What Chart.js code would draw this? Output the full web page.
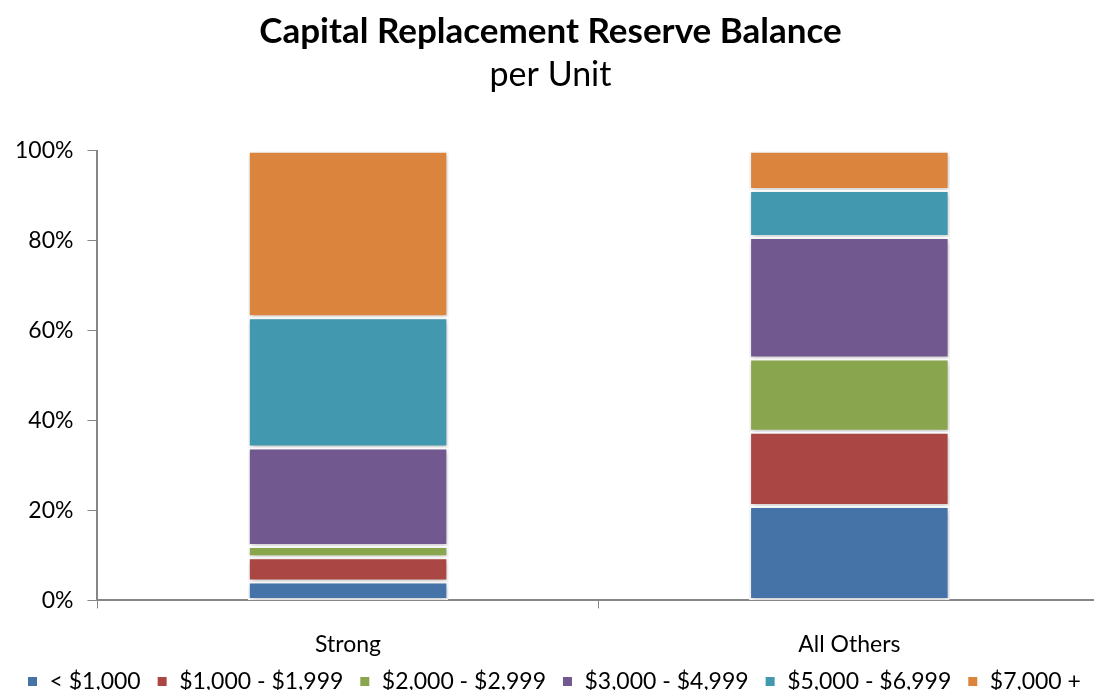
<!DOCTYPE html>
<html><head><meta charset="utf-8">
<script src="https://cdn.jsdelivr.net/npm/chart.js@4"></script>
<style>html,body{margin:0;padding:0;background:#fff;overflow:hidden;width:1094px;height:690px}</style>
</head><body>
<canvas id="c" width="1180" height="690"></canvas>
<script>
const categories = ["Strong", "All Others"];
const seriesNames = ["< $1,000", "$1,000 - $1,999", "$2,000 - $2,999", "$3,000 - $4,999", "$5,000 - $6,999", "$7,000 +"];
const under1000 = [4.2, 21.0];
const s1000to1999 = [5.4, 16.5];
const s2000to2999 = [2.5, 16.3];
const s3000to4999 = [21.9, 27.0];
const s5000to6999 = [29.0, 10.5];
const s7000plus = [37.0, 8.7];
const yTicks = [0, 20, 40, 60, 80, 100];
const colors = ["#4572A7", "#AA4643", "#89A54E", "#71588F", "#4198AF", "#DB843D"];
const seriesValues = [under1000, s1000to1999, s2000to2999, s3000to4999, s5000to6999, s7000plus];
const FONT = "Lato, 'Liberation Sans Narrow', Calibri, sans-serif";

const shadowPlugin = {
  id: 'shadow',
  beforeDatasetsDraw(chart) {
    const ctx = chart.ctx; ctx.save();
    ctx.shadowColor = 'rgba(0,0,0,0.22)'; ctx.shadowBlur = 6; ctx.shadowOffsetX = 1; ctx.shadowOffsetY = 2;
  },
  afterDatasetsDraw(chart) { chart.ctx.restore(); }
};
const SHRINK = 33, LIFT = 26;
const legendTweak = {
  id: 'legendTweak',
  beforeLayout(chart) {
    const lg = chart.legend;
    if (lg && !lg._wrapped) {
      const orig = lg.fit;
      lg.fit = function () { orig.call(this); this._origH = this.height; this.height -= SHRINK; };
      lg._wrapped = true;
    }
  },
  afterLayout(chart) {
    const lg = chart.legend;
    if (lg) {
      lg.left += 10; lg.right += 10;
      lg.top -= LIFT;
      lg.height = lg._origH + 20;
      lg.bottom = lg.top + lg.height;
    }
  }
};

new Chart(document.getElementById('c'), {
  type: 'bar',
  data: {
    labels: categories,
    datasets: seriesValues.map((v, i) => ({
      label: seriesNames[i], data: v, backgroundColor: colors[i],
      borderColor: '#ffffff', borderWidth: 2, borderSkipped: false,
      barPercentage: 0.4, categoryPercentage: 1.0
    }))
  },
  options: {
    responsive: false, animation: false,
    layout: { padding: { left: 1, right: 80, top: 10, bottom: -6 } },
    plugins: {
      title: { display: true, text: "Capital Replacement Reserve Balance", color: '#000',
        font: { family: FONT, size: 35, weight: 'bold' }, padding: { top: 1, bottom: 2 } },
      subtitle: { display: true, text: "per Unit", color: '#000',
        font: { family: FONT, size: 34 }, padding: { bottom: 55 } },
      legend: { position: 'bottom', align: 'start',
        labels: { boxWidth: 11, boxHeight: 11, color: '#000', padding: 16,
          font: { family: FONT, size: 23 } } },
      tooltip: { enabled: false }
    },
    scales: {
      x: { stacked: true,
        border: { color: '#868686', width: 2 },
        grid: { offset: true, drawOnChartArea: false, drawTicks: true, tickLength: 8, color: '#868686' },
        ticks: { color: '#000', font: { family: FONT, size: 23 }, padding: 22 } },
      y: { stacked: true, min: 0, max: 100,
        border: { color: '#868686', width: 2 },
        grid: { drawOnChartArea: false, drawTicks: true, tickLength: 10, color: '#868686' },
        afterBuildTicks(axis) { axis.ticks = yTicks.map(v => ({ value: v })); },
        ticks: { color: '#000', font: { family: FONT, size: 23 }, padding: 14,
          callback: v => v + '%' } }
    }
  },
  plugins: [shadowPlugin, legendTweak]
});
</script>
</body></html>
